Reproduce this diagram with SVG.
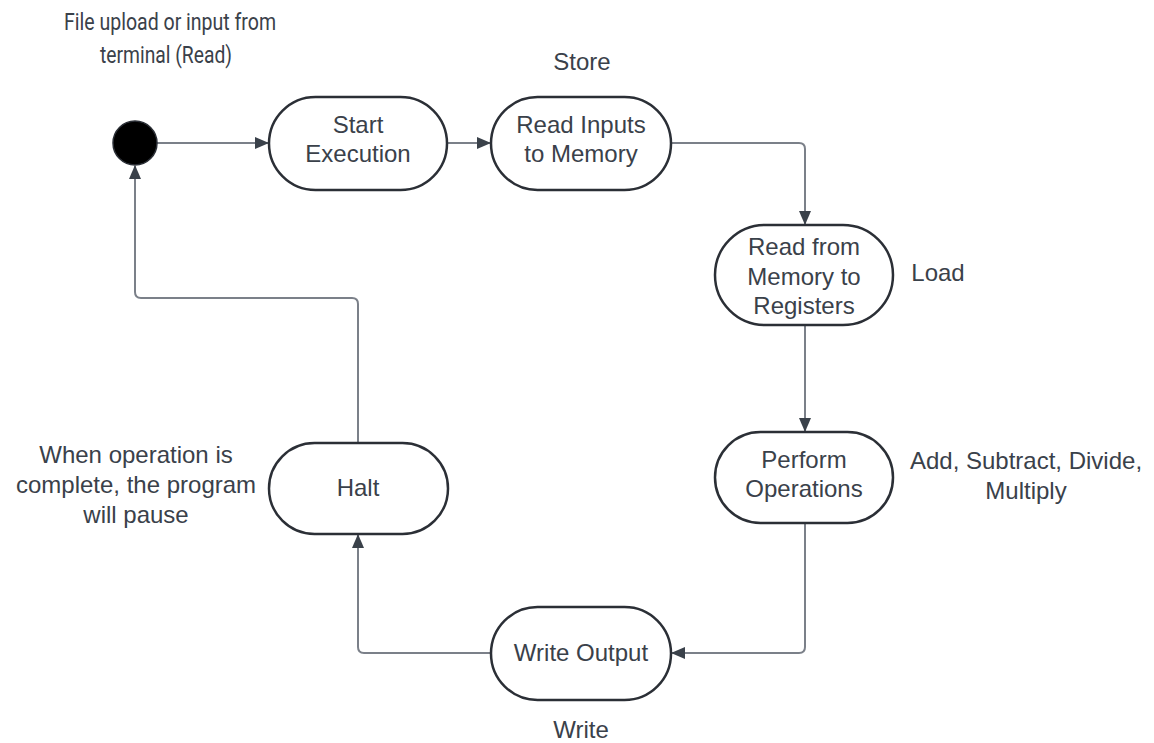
<svg xmlns="http://www.w3.org/2000/svg" width="1154" height="743" viewBox="0 0 1154 743">
<style>
.node{fill:#ffffff;stroke:#2b2f36;stroke-width:2.5}
.t{font-family:"Liberation Sans",Arial,sans-serif;font-size:24px;fill:#3a414a;text-anchor:middle}
.lbl{font-family:"Liberation Sans",Arial,sans-serif;font-size:24px;fill:#3a414a;text-anchor:middle}
.top{font-family:Roboto,"Liberation Sans",sans-serif;font-size:24px;fill:#3a414a;text-anchor:middle}
.c{fill:none;stroke:#7b8089;stroke-width:2}
</style>
<defs>
<marker id="arr" markerWidth="14" markerHeight="12" refX="13" refY="6" orient="auto" markerUnits="userSpaceOnUse">
<path d="M0,0 L14,6 L0,12 Z" fill="#3a414a"/>
</marker>
</defs>
<rect width="1154" height="743" fill="#ffffff"/>
<g id="connectors">
<path class="c" d="M157,143 H268" marker-end="url(#arr)"/>
<path class="c" d="M447,143 H490" marker-end="url(#arr)"/>
<path class="c" d="M671,143 H799 Q805,143 805,149 V224" marker-end="url(#arr)"/>
<path class="c" d="M805,325 V431" marker-end="url(#arr)"/>
<path class="c" d="M805,523 V647 Q805,653 799,653 H672" marker-end="url(#arr)"/>
<path class="c" d="M491,653 H364 Q358,653 358,647 V535" marker-end="url(#arr)"/>
<path class="c" d="M358,443 V304 Q358,298 352,298 H141 Q135,298 135,292 V166" marker-end="url(#arr)"/>
</g>
<g id="start-dot">
<circle cx="135" cy="143" r="22" fill="#000000" stroke="#2b2f36" stroke-width="1.5"/>
</g>
<g id="start-execution">
<rect class="node" x="269" y="97" width="178" height="93" rx="46.5" ry="46.5"/>
<text class="t" x="358" y="133">Start</text>
<text class="t" x="358" y="162">Execution</text>
</g>
<g id="read-inputs">
<rect class="node" x="491" y="97" width="180" height="93" rx="46.5" ry="46.5"/>
<text class="t" x="581" y="133">Read Inputs</text>
<text class="t" x="581" y="162">to Memory</text>
</g>
<g id="read-memory">
<rect class="node" x="715" y="225" width="178" height="100" rx="50" ry="50"/>
<text class="t" x="804" y="255">Read from</text>
<text class="t" x="804" y="285">Memory to</text>
<text class="t" x="804" y="314">Registers</text>
</g>
<g id="perform-operations">
<rect class="node" x="715" y="432" width="178" height="91" rx="45.5" ry="45.5"/>
<text class="t" x="804" y="468">Perform</text>
<text class="t" x="804" y="497">Operations</text>
</g>
<g id="write-output">
<rect class="node" x="491" y="607" width="180" height="93" rx="46.5" ry="46.5"/>
<text class="t" x="581" y="661">Write Output</text>
</g>
<g id="halt">
<rect class="node" x="269" y="443" width="179" height="91" rx="45.5" ry="45.5"/>
<text class="t" x="358" y="496">Halt</text>
</g>
<g id="labels">
<text class="top" x="170" y="30" textLength="212" lengthAdjust="spacingAndGlyphs">File upload or input from</text>
<text class="top" x="166" y="63" textLength="132" lengthAdjust="spacingAndGlyphs">terminal (Read)</text>
<text class="lbl" x="582" y="70">Store</text>
<text class="lbl" x="938" y="281">Load</text>
<text class="lbl" x="1026" y="469">Add, Subtract, Divide,</text>
<text class="lbl" x="1026" y="499">Multiply</text>
<text class="lbl" x="136" y="463">When operation is</text>
<text class="lbl" x="136" y="493">complete, the program</text>
<text class="lbl" x="136" y="523">will pause</text>
<text class="lbl" x="581" y="738">Write</text>
</g>
</svg>
